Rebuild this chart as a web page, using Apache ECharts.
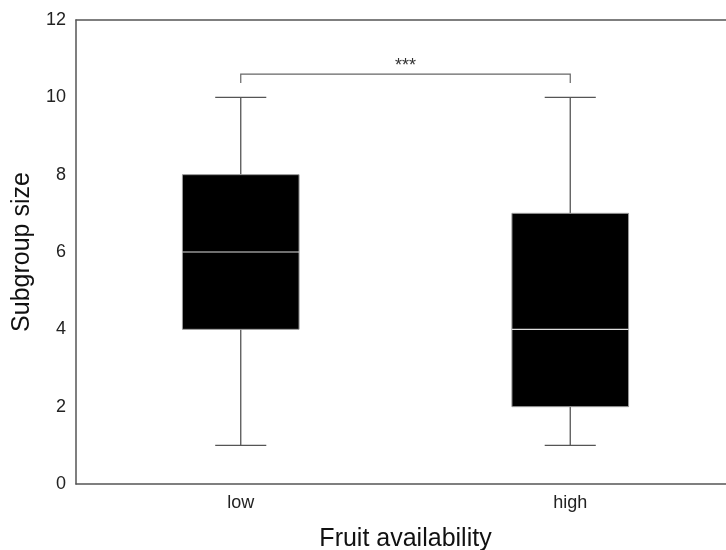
<!DOCTYPE html>
<html><head><meta charset="utf-8">
<script src="https://cdn.jsdelivr.net/npm/echarts@6/dist/echarts.min.js"></script>
<style>html,body{margin:0;padding:0;background:#fff}#c{width:726px;height:550px}</style>
</head><body><div id="c"></div>
<script>
const categories = ['low', 'high'];
const mins = [1, 1];
const q1s = [4, 2];
const medians = [6, 4];
const q3s = [8, 7];
const maxs = [10, 10];
const yTicks = [0, 2, 4, 6, 8, 10, 12];
const sigFrom = 0, sigTo = 1, sigY = 10.6, sigLabel = '***';

const boxData = categories.map((c, i) => [i, mins[i], q1s[i], medians[i], q3s[i], maxs[i]]);
const font = 'Liberation Sans, Arial, sans-serif';
const chart = echarts.init(document.getElementById('c'));
chart.setOption({
  animation: false,
  grid: { left: 76, right: -9, top: 20, bottom: 66, outerBoundsMode: 'none', containLabel: false },
  xAxis: [{
    type: 'category', data: categories, position: 'bottom',
    axisLine: { lineStyle: { color: '#555', width: 1.5 } },
    axisTick: { show: false },
    axisLabel: { color: '#222', fontSize: 18, fontFamily: font, margin: 10 },
    name: 'Fruit availability', nameLocation: 'middle', nameGap: 43,
    nameTextStyle: { color: '#111', fontSize: 25, fontFamily: font }
  }, {
    type: 'category', data: categories, position: 'top',
    axisLine: { lineStyle: { color: '#555', width: 1.5 } },
    axisTick: { show: false }, axisLabel: { show: false }
  }],
  yAxis: {
    type: 'value', min: yTicks[0], max: yTicks[yTicks.length - 1], interval: 2,
    axisLine: { show: true, lineStyle: { color: '#555', width: 1.5 } },
    axisTick: { show: false }, splitLine: { show: false },
    axisLabel: { color: '#222', fontSize: 18, fontFamily: font, margin: 10 },
    name: 'Subgroup size', nameLocation: 'middle', nameGap: 34,
    nameTextStyle: { color: '#111', fontSize: 25, fontFamily: font }
  },
  series: [{
    type: 'custom',
    data: boxData,
    renderItem: function (params, api) {
      const x = api.value(0);
      const band = api.size([1, 0])[0];
      const bw = band * 0.354, cw = band * 0.155;
      const pMin = api.coord([x, api.value(1)]);
      const pQ1 = api.coord([x, api.value(2)]);
      const pMed = api.coord([x, api.value(3)]);
      const pQ3 = api.coord([x, api.value(4)]);
      const pMax = api.coord([x, api.value(5)]);
      const cx = pMin[0];
      const ws = { stroke: '#555', lineWidth: 1.3 };
      return { type: 'group', children: [
        { type: 'line', shape: { x1: cx, y1: pMin[1], x2: cx, y2: pQ1[1] }, style: ws },
        { type: 'line', shape: { x1: cx, y1: pQ3[1], x2: cx, y2: pMax[1] }, style: ws },
        { type: 'line', shape: { x1: cx - cw / 2, y1: pMin[1], x2: cx + cw / 2, y2: pMin[1] }, style: ws },
        { type: 'line', shape: { x1: cx - cw / 2, y1: pMax[1], x2: cx + cw / 2, y2: pMax[1] }, style: ws },
        { type: 'rect', shape: { x: cx - bw / 2, y: pQ3[1], width: bw, height: pQ1[1] - pQ3[1] },
          style: { fill: '#000', stroke: '#999', lineWidth: 1 } },
        { type: 'line', shape: { x1: cx - bw / 2, y1: pMed[1], x2: cx + bw / 2, y2: pMed[1] },
          style: { stroke: '#ddd', lineWidth: 1.2 } }
      ]};
    }
  }, {
    type: 'custom',
    data: [[sigFrom, sigTo, sigY]],
    renderItem: function (params, api) {
      const a = api.coord([api.value(0), api.value(2)]);
      const b = api.coord([api.value(1), api.value(2)]);
      const leg = api.size([0, 0.23])[1];
      const s = { stroke: '#666', lineWidth: 1.2, fill: null };
      return { type: 'group', children: [
        { type: 'polyline', shape: { points: [[a[0], a[1] + leg], [a[0], a[1]], [b[0], b[1]], [b[0], b[1] + leg]] }, style: s },
        { type: 'text', x: (a[0] + b[0]) / 2, y: a[1] - 8,
          style: { text: sigLabel, fill: '#333', fontSize: 18, fontFamily: font, align: 'center', verticalAlign: 'middle' } }
      ]};
    }
  }]
});
</script></body></html>
